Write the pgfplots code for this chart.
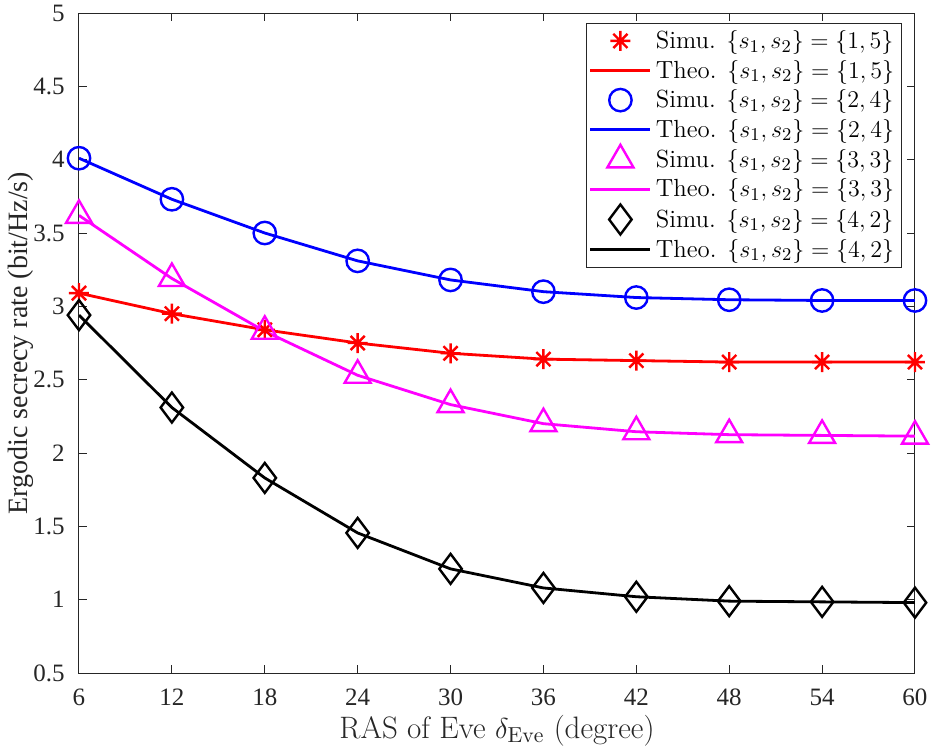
\documentclass[border=0pt]{standalone}
\usepackage{fontspec}
\usepackage{pgfplots}
\pgfplotsset{compat=1.18}
\newfontfamily\timesfont{Liberation Serif}

\definecolor{axgray}{gray}{0.15}
\definecolor{mred}{rgb}{1,0,0}
\definecolor{mblue}{rgb}{0,0,1}
\definecolor{mmag}{rgb}{1,0,1}

% eight-armed star: plus and cross together
\pgfdeclareplotmark{star8}{%
  \pgfpathmoveto{\pgfqpoint{0pt}{\pgfplotmarksize}}%
  \pgfpathlineto{\pgfqpoint{0pt}{-\pgfplotmarksize}}%
  \pgfpathmoveto{\pgfqpoint{\pgfplotmarksize}{0pt}}%
  \pgfpathlineto{\pgfqpoint{-\pgfplotmarksize}{0pt}}%
  \pgfpathmoveto{\pgfqpoint{0.7071\pgfplotmarksize}{0.7071\pgfplotmarksize}}%
  \pgfpathlineto{\pgfqpoint{-0.7071\pgfplotmarksize}{-0.7071\pgfplotmarksize}}%
  \pgfpathmoveto{\pgfqpoint{-0.7071\pgfplotmarksize}{0.7071\pgfplotmarksize}}%
  \pgfpathlineto{\pgfqpoint{0.7071\pgfplotmarksize}{-0.7071\pgfplotmarksize}}%
  \pgfusepathqstroke}

\pgfplotstableread{
x    s15   s24   s33   s42
6    3.09  4.01  3.62  2.94
12   2.95  3.73  3.19  2.31
18   2.84  3.50  2.83  1.83
24   2.75  3.31  2.53  1.455
30   2.68  3.18  2.33  1.21
36   2.64  3.10  2.20  1.08
42   2.63  3.06  2.145 1.02
48   2.62  3.045 2.125 0.99
54   2.62  3.04  2.12  0.985
60   2.62  3.04  2.115 0.98
}\ratedata

\begin{document}
\begin{tikzpicture}
% page frame around the axis box and its labels
\useasboundingbox (-39.5pt,-39pt) rectangle (427pt,336.5pt);
\begin{axis}[
  scale only axis,
  width=418pt, height=330pt,
  xmin=6, xmax=60, ymin=0.5, ymax=5,
  xtick={6,12,...,60},
  ytick={0.5,1,...,5},
  yticklabels={0.5,1,1.5,2,2.5,3,3.5,4,4.5,5},
  tick align=inside,
  major tick length=4pt,
  axis line style={axgray, line width=0.5pt},
  tick style={axgray, line width=0.5pt},
  /pgf/number format/assume math mode=true,
  tick label style={font=\timesfont\fontsize{12.5}{14}\selectfont, text=axgray},
  yticklabel style={anchor=east, inner sep=0pt, xshift=-7pt},
  xticklabel style={anchor=base, inner sep=0pt, yshift=-16pt},
  xlabel={RAS of Eve $\delta_{\mathrm{Eve}}$ (degree)},
  ylabel={Ergodic secrecy rate (bit/Hz/s)},
  xlabel style={font=\fontsize{15.5}{17}\selectfont, text=axgray,
    at={(axis description cs:0.5,0)}, anchor=base, inner sep=0pt, yshift=-32.5pt},
  ylabel style={font=\timesfont\fontsize{14}{16}\selectfont, text=axgray,
    at={(axis description cs:0,0.5)}, anchor=center, inner sep=0pt, yshift=29pt},
  legend style={at={(0.984,0.985)}, anchor=north east,
    draw=axgray, line width=0.5pt, fill=white,
    font=\fontsize{12.4}{15.5}\selectfont,
    inner sep=1.5pt, row sep=0.3pt},
  legend cell align=left,
  legend image code/.code={\draw[mark repeat=2,mark phase=2,#1]
    plot coordinates {(0pt,0pt) (15pt,0pt) (30pt,0pt)};},
]
\addplot[mred, only marks, mark=star8, mark size=5pt, mark options={line width=1.2pt}] table[x=x,y=s15]{\ratedata};
\addlegendentry{Simu. $\{s_1,s_2\}=\{1,5\}$}
\addplot[mred, line width=1.4pt, no markers] table[x=x,y=s15]{\ratedata};
\addlegendentry{Theo. $\{s_1,s_2\}=\{1,5\}$}
\addplot[mblue, only marks, mark=o, mark size=5.6pt, mark options={line width=1.2pt}] table[x=x,y=s24]{\ratedata};
\addlegendentry{Simu. $\{s_1,s_2\}=\{2,4\}$}
\addplot[mblue, line width=1.4pt, no markers] table[x=x,y=s24]{\ratedata};
\addlegendentry{Theo. $\{s_1,s_2\}=\{2,4\}$}
\addplot[mmag, only marks, mark=triangle, mark size=7.5pt, mark options={line width=1.2pt}] table[x=x,y=s33]{\ratedata};
\addlegendentry{Simu. $\{s_1,s_2\}=\{3,3\}$}
\addplot[mmag, line width=1.4pt, no markers] table[x=x,y=s33]{\ratedata};
\addlegendentry{Theo. $\{s_1,s_2\}=\{3,3\}$}
\addplot[black, only marks, mark=diamond, mark size=7.5pt, mark options={line width=1.2pt}] table[x=x,y=s42]{\ratedata};
\addlegendentry{Simu. $\{s_1,s_2\}=\{4,2\}$}
\addplot[black, line width=1.4pt, no markers] table[x=x,y=s42]{\ratedata};
\addlegendentry{Theo. $\{s_1,s_2\}=\{4,2\}$}
\end{axis}
\end{tikzpicture}
\end{document}
